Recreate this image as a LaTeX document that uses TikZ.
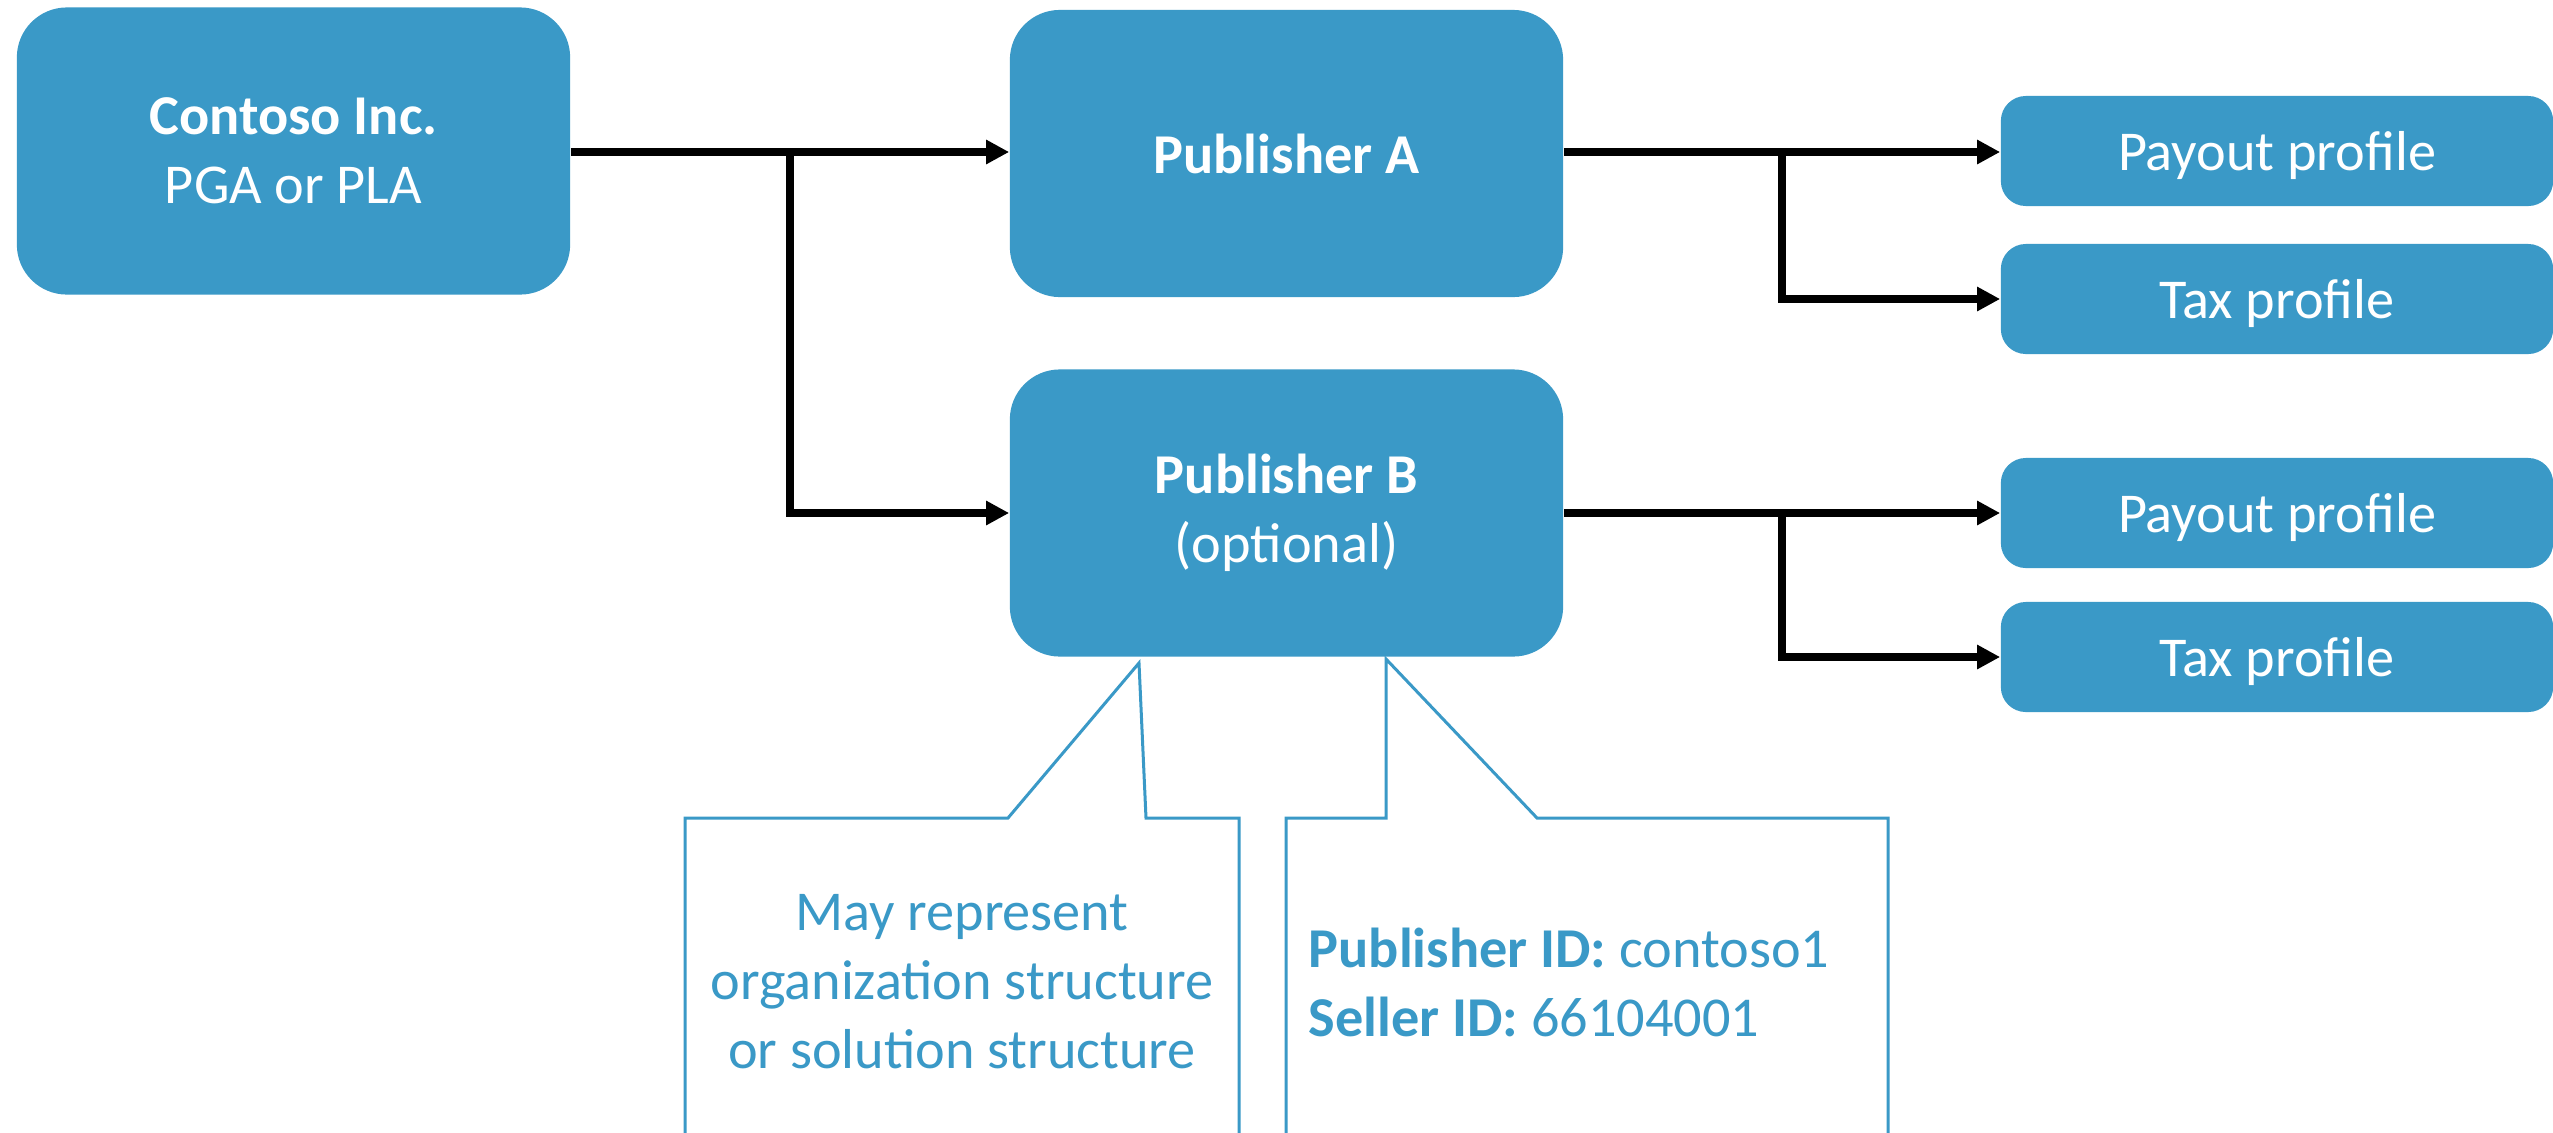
\documentclass[tikz,border=0pt]{standalone}
\usepackage{fontspec}
\setmainfont{Carlito}
\usetikzlibrary{arrows.meta}
\definecolor{boxblue}{HTML}{3A99C7}
\begin{document}
\begin{tikzpicture}[x=0.01cm,y=-0.01cm,
  bluebox/.style={fill=boxblue, draw=none, text=white, align=center, inner sep=0pt,
    font=\fontsize{16}{19.6}\selectfont},
  bigbox/.style={bluebox, rounded corners=0.5cm, minimum width=5.53cm, minimum height=2.87cm},
  smallbox/.style={bluebox, rounded corners=0.25cm, minimum width=5.52cm, minimum height=1.10cm, text depth=0pt},
  conn/.style={line width=0.08cm, -{Triangle[length=0.23cm,width=0.23cm]}},
  callout/.style={draw=boxblue, line width=0.03cm},
  note/.style={text=boxblue, inner sep=0pt, font=\fontsize{16}{19.6}\selectfont}]
\useasboundingbox (0,0) rectangle (2553,1133);
\fill[white] (0,0) rectangle (2553,1133);

% main boxes
\node[bigbox] (contoso) at (293.5,151) {\textbf{Contoso Inc.}\\PGA or PLA};
\node[bigbox] (pubA) at (1286.5,153.5) {\textbf{Publisher A}};
\node[bigbox] (pubB) at (1286.5,513) {\textbf{Publisher B}\\(optional)};

% profile boxes
\node[smallbox] (payA) at (2277,151) {Payout profile};
\node[smallbox] (taxA) at (2277,299) {Tax profile};
\node[smallbox] (payB) at (2277,513) {Payout profile};
\node[smallbox] (taxB) at (2277,657) {Tax profile};

% junctions
\coordinate (j1) at (790,152);
\coordinate (j2) at (1782,152);
\coordinate (j3) at (1782,513);

% connectors
\draw[conn] (contoso.east |- j1) -- (j1) |- (pubB.west);
\draw[conn] (j1) -- (pubA.west |- j1);
\draw[conn] (pubA.east |- j2) -- (j2) |- (taxA.west);
\draw[conn] (j2) -- (payA.west |- j2);
\draw[conn] (pubB.east) -- (j3) |- (taxB.west);
\draw[conn] (j3) -- (payB.west);

% callouts
\coordinate (tip1) at (1139,663);
\coordinate (tip2) at (1386,659);
\draw[callout] (685,1140) -- (685,818) -- (1008,818) -- (tip1) -- (1146,818) -- (1239,818) -- (1239,1140);
\draw[callout] (1286,1140) -- (1286,818) -- (1386,818) -- (tip2) -- (1537,818) -- (1888,818) -- (1888,1140);

\node[note, align=center] (note1) at (962,982) {May represent\\organization structure\\or solution structure};
\node[note, align=left, anchor=west] (note2) at (1308,982) {\textbf{Publisher ID:} contoso1\\\textbf{Seller ID:} 66104001};
\end{tikzpicture}
\end{document}
